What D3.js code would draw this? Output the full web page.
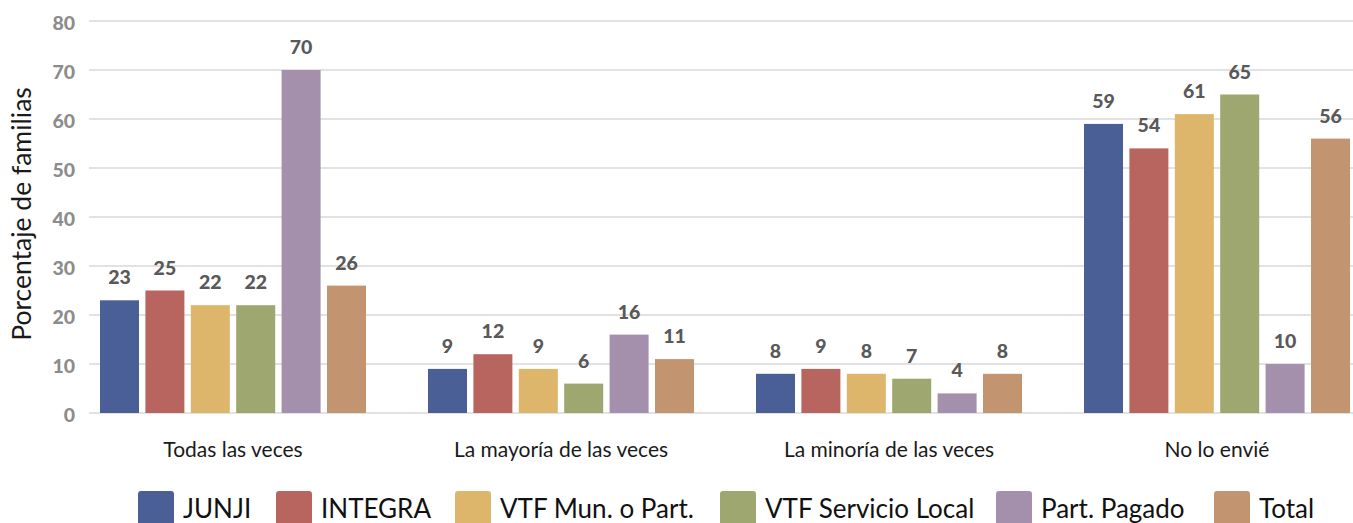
<!DOCTYPE html>
<html><head><meta charset="utf-8">
<script src="https://cdn.jsdelivr.net/npm/d3@7"></script>
<style>body{margin:0;background:#fff;} svg{display:block;}</style>
</head><body>
<svg id="c" width="1353" height="523"></svg>
<script>
const categories = ["Todas las veces","La mayoría de las veces","La minoría de las veces","No lo envié"];
const seriesNames = ["JUNJI","INTEGRA","VTF Mun. o Part.","VTF Servicio Local","Part. Pagado","Total"];
const seriesColors = ["#4b5f97","#b8655f","#ddb66c","#9ea770","#a490ad","#c2946f"];
const JUNJI = [23,9,8,59];
const INTEGRA = [25,12,9,54];
const VTF_Mun = [22,9,8,61];
const VTF_Serv = [22,6,7,65];
const Part_Pagado = [70,16,4,10];
const Total = [26,11,8,56];
const seriesValues = [JUNJI,INTEGRA,VTF_Mun,VTF_Serv,Part_Pagado,Total];
const yTicks = [0,10,20,30,40,50,60,70,80];

const svg = d3.select("#c");
const y = d3.scaleLinear().domain([0,80]).range([413,21]);
const x0 = d3.scaleBand().domain(categories).range([69,1381]).padding(0);
const x1 = d3.scaleBand().domain(seriesNames).range([31, x0.bandwidth()-31]).paddingInner(0.141).paddingOuter(0);
const color = d3.scaleOrdinal().domain(seriesNames).range(seriesColors);

// gridlines
svg.append("g").selectAll("line").data(yTicks).join("line")
  .attr("x1",89).attr("x2",1353)
  .attr("y1",d=>y(d)).attr("y2",d=>y(d))
  .attr("stroke","#d9d9d9").attr("stroke-width",1.3);

// y tick labels
const yAxis = d3.axisLeft(y).tickValues(yTicks).tickSize(0).tickPadding(0);
const ya = svg.append("g").attr("transform","translate(75,0)").call(yAxis);
ya.select(".domain").remove();
ya.selectAll("text").attr("font-family","Lato").attr("font-weight","900")
  .attr("font-size","19.5px").attr("fill","#8c8c8c").attr("dy","0.45em");

// bars
const data = [];
categories.forEach((c,ci)=>seriesNames.forEach((s,si)=>data.push({c,s,v:seriesValues[si][ci]})));
const g = svg.append("g");
g.selectAll("rect").data(data).join("rect")
  .attr("x",d=>x0(d.c)+x1(d.s)).attr("width",x1.bandwidth())
  .attr("y",d=>y(d.v)).attr("height",d=>y(0)-y(d.v))
  .attr("fill",d=>color(d.s));
g.selectAll("text").data(data).join("text")
  .attr("x",d=>x0(d.c)+x1(d.s)+x1.bandwidth()/2)
  .attr("y",d=>y(d.v)-16)
  .attr("text-anchor","middle").attr("font-family","Lato").attr("font-weight","900")
  .attr("font-size","19.5px").attr("fill","#595959").text(d=>d.v);

// category labels
const xAxis = d3.axisBottom(x0).tickSize(0).tickPadding(0);
const xa = svg.append("g").attr("transform","translate(0,457)").call(xAxis);
xa.select(".domain").remove();
xa.selectAll("text").attr("font-family","Lato").attr("font-size","21px").attr("fill","#1a1a1a").attr("dy","0");

// y title
svg.append("text").attr("transform","translate(31,214) rotate(-90)")
  .attr("text-anchor","middle").attr("font-family","Lato").attr("font-size","26.5px").attr("fill","#1a1a1a")
  .text("Porcentaje de familias");

// legend
const legX = [138,276,455,720,996,1214];
const leg = svg.append("g").selectAll("g").data(seriesNames).join("g")
  .attr("transform",(d,i)=>`translate(${legX[i]},491)`);
leg.append("rect").attr("width",36).attr("height",40).attr("rx",3).attr("fill",d=>color(d));
leg.append("text").attr("x",45).attr("y",27).attr("font-family","Lato").attr("font-size","26px").attr("fill","#111").text(d=>d);
</script>
</body></html>
